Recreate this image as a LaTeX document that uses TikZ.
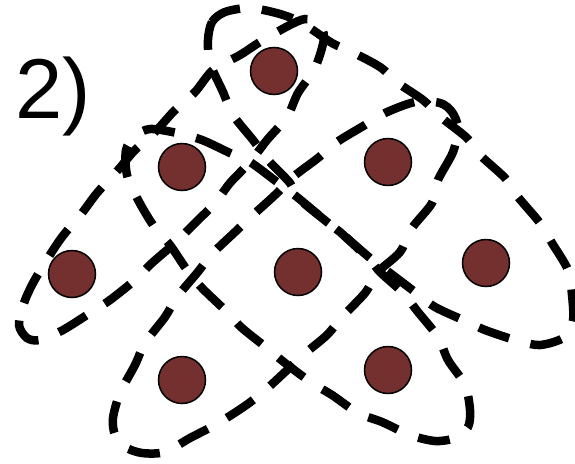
\documentclass[tikz,border=0pt]{standalone}
\usepackage{fontspec}
\setmainfont{Liberation Sans}
\definecolor{dotred}{HTML}{74302F}
\begin{document}
\begin{tikzpicture}[x=1pt,y=-1pt,
  loopline/.style={draw=black,line width=8.5pt,dash pattern=on 32pt off 22pt,line cap=butt},
  dotnode/.style={circle,fill=dotred,draw=black,line width=1.5pt,minimum size=47pt,inner sep=0pt},
  lbl/.style={anchor=base west,inner sep=0pt,font=\fontsize{85}{85}\selectfont}]
\useasboundingbox (0,0) rectangle (575,463);
% loop 1
\draw[loopline] plot[smooth cycle,tension=0.5] coordinates {
 (19,325) (24,303) (33,283) (48,258) (62,237) (82,213) (97,193) (118,170) (135,150)
 (155,132) (175,110) (195,92) (213,70) (240,55) (260,42) (288,26) (305,19) (318,23)
 (324,38) (315,68) (298,93) (287,117) (267,140) (250,162) (230,183) (215,203) (193,225)
 (175,243) (152,263) (135,280) (110,300) (90,313) (63,330) (40,340) (27,338)};
% loop 2
\draw[loopline] plot[smooth cycle,tension=0.5] coordinates {
 (208,40) (212,22) (225,12) (250,8) (280,14) (302,23) (332,43) (352,52) (380,67)
 (398,83) (423,100) (442,118) (467,138) (480,155) (505,178) (518,197) (540,223)
 (552,243) (568,270) (572,295) (573,320) (565,337) (540,345) (515,340) (485,330)
 (463,320) (435,307) (415,292) (390,273) (370,258) (340,232) (327,222) (297,197)
 (290,183) (268,160) (253,140) (233,115) (223,92) (210,63)};
% loop 3
\draw[loopline] plot[smooth cycle,tension=0.5] coordinates {
 (458,128) (453,152) (438,180) (432,203) (412,228) (400,252) (378,272) (365,293)
 (342,317) (327,335) (303,355) (285,372) (262,393) (242,408) (215,425) (190,438)
 (165,452) (142,453) (125,447) (115,435) (113,418) (120,393) (135,365) (145,343)
 (165,317) (177,297) (197,273) (213,253) (235,232) (253,215) (275,195) (293,177)
 (318,158) (337,142) (365,125) (385,113) (415,102) (440,103) (452,112)};
% loop 4
\draw[loopline] plot[smooth cycle,tension=0.5] coordinates {
 (177,133) (202,140) (230,153) (250,162) (277,182) (297,197) (327,222) (340,232)
 (370,260) (380,272) (403,293) (418,312) (438,337) (448,360) (465,385) (470,410)
 (468,427) (455,438) (435,441) (410,435) (382,422) (358,413) (332,395) (312,383)
 (285,363) (267,348) (242,328) (227,312) (202,288) (187,270) (170,245) (153,225)
 (137,198) (127,175) (126,150) (135,136) (150,129)};
% dots
\node[dotnode] (d1) at (274,71) {};
\node[dotnode] (d2) at (182,167) {};
\node[dotnode] (d3) at (388,162) {};
\node[dotnode] (d4) at (72,274) {};
\node[dotnode] (d5) at (298,272) {};
\node[dotnode] (d6) at (486,263) {};
\node[dotnode] (d7) at (182,380) {};
\node[dotnode] (d8) at (388,370) {};
\node[lbl] (label) at (15,118) {2)};
\end{tikzpicture}
\end{document}
